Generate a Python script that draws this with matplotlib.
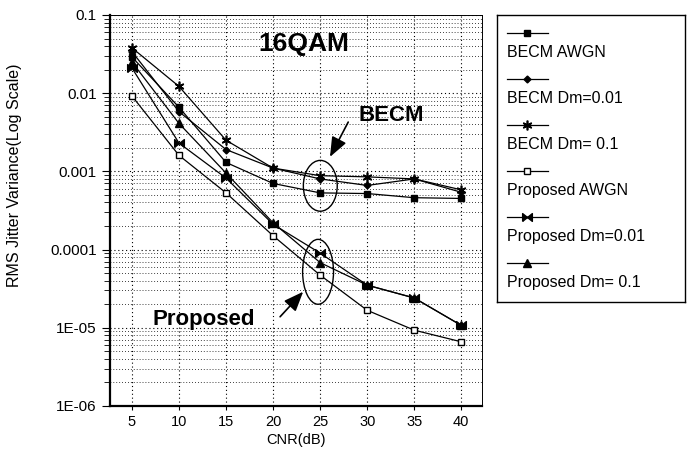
import numpy as np
import matplotlib
matplotlib.use("Agg")
import matplotlib.pyplot as plt
from matplotlib.patches import Ellipse

plt.rcParams['font.family'] = ['Liberation Sans', 'DejaVu Sans']

# ===== data =====
cnr = [5, 10, 15, 20, 25, 30, 35, 40]

becm_awgn = [0.029, 0.0066, 0.0013, 0.0007, 0.00053, 0.00052, 0.00046, 0.00045]
becm_dm001 = [0.034, 0.0058, 0.0019, 0.0011, 0.0008, 0.00066, 0.0008, 0.00054]
becm_dm01 = [0.038, 0.0122, 0.0025, 0.0011, 0.00088, 0.00085, 0.0008, 0.00058]
prop_awgn = [0.0092, 0.0016, 0.00053, 0.00015, 0.000047, 0.0000167, 0.0000093, 0.0000066]
prop_dm001 = [0.021, 0.0023, 0.00082, 0.00021, 0.00009, 0.000035, 0.000024, 0.0000107]
prop_dm01 = [0.025, 0.0041, 0.00095, 0.00022, 0.000068, 0.000035, 0.000024, 0.0000107]

labels = ['BECM AWGN', 'BECM Dm=0.01', 'BECM Dm= 0.1',
          'Proposed AWGN', 'Proposed Dm=0.01', 'Proposed Dm= 0.1']
ytick_vals = [1e-6, 1e-5, 1e-4, 1e-3, 1e-2, 1e-1]
ytick_labels = ['1E-06', '1E-05', '0.0001', '0.001', '0.01', '0.1']

# bowtie marker (two triangles tip to tip)
bowtie = [(-1, -0.8), (1, 0.8), (1, -0.8), (-1, 0.8), (-1, -0.8)]

styles = [
    dict(marker='s', ms=5, mfc='black'),
    dict(marker='D', ms=3.5, mfc='black'),
    dict(marker=(6, 2, 0), ms=7, mew=1.2),
    dict(marker='s', ms=5, mfc='white'),
    dict(marker=bowtie, ms=7, mfc='black'),
    dict(marker='^', ms=6, mfc='black'),
]
series = [becm_awgn, becm_dm001, becm_dm01, prop_awgn, prop_dm001, prop_dm01]

fig = plt.figure(figsize=(6.87, 4.54), dpi=100)
ax = fig.add_axes([0.160, 0.106, 0.542, 0.861])

for vals, st in zip(series, styles):
    ax.plot(cnr, vals, color='black', lw=0.9, mec='black', **st)

ax.set_yscale('log')
ax.set_ylim(1e-6, 0.1)
ax.set_xlim(2.66, 42.23)
ax.set_xticks(cnr)
ax.set_yticks(ytick_vals)
ax.set_yticklabels(ytick_labels)
ax.tick_params(axis='x', labelsize=10.5, length=3, direction='out')
ax.tick_params(axis='y', which='major', labelsize=11, length=6, direction='out')
ax.tick_params(axis='y', which='minor', length=4, direction='out')

# dotted grid
ax.grid(True, which='major', axis='both', color='black', linestyle=(0, (1, 2.5)), lw=0.8)
ax.grid(True, which='minor', axis='y', color='black', linestyle=(0, (1, 2.5)), lw=0.6)

for s in ['left', 'bottom']:
    ax.spines[s].set_linewidth(1.6)
for s in ['top', 'right']:
    ax.spines[s].set_linewidth(0.7)

ax.set_xlabel('CNR(dB)', fontsize=10.5, labelpad=3)
ax.set_ylabel('RMS Jitter Variance(Log Scale)', fontsize=11.5)
ax.yaxis.set_label_coords(-0.235, 0.59)

# annotations
ax.text(0.522, 0.926, '16QAM', transform=ax.transAxes, fontsize=19,
        fontweight='bold', ha='center', va='center')
ax.text(0.755, 0.742, 'BECM', transform=ax.transAxes, fontsize=16,
        fontweight='bold', ha='center', va='center')
ax.text(0.253, 0.220, 'Proposed', transform=ax.transAxes, fontsize=16,
        fontweight='bold', ha='center', va='center')

ax.add_patch(Ellipse((0.565, 0.563), 0.091, 0.130, transform=ax.transAxes,
                     fill=False, edgecolor='black', lw=1))
ax.add_patch(Ellipse((0.559, 0.343), 0.083, 0.166, transform=ax.transAxes,
                     fill=False, edgecolor='black', lw=1))

arr = dict(arrowstyle='-|>,head_length=1.0,head_width=0.4', color='black',
           lw=1.2, mutation_scale=12, shrinkA=0, shrinkB=0)
ax.annotate('', xy=(0.591, 0.637), xytext=(0.640, 0.726),
            xycoords='axes fraction', arrowprops=arr)
ax.annotate('', xy=(0.519, 0.292), xytext=(0.457, 0.228),
            xycoords='axes fraction', arrowprops=arr)

# legend box: sample line above each label
lax = fig.add_axes([0.7234, 0.3348, 0.2737, 0.6322])
lax.set_xlim(0, 188)
lax.set_ylim(287, 0)
lax.set_xticks([])
lax.set_yticks([])
for s in lax.spines.values():
    s.set_linewidth(1.0)

for i, (lab, st) in enumerate(zip(labels, styles)):
    y0 = 18 + 46 * i
    lax.plot([10, 51], [y0, y0], color='black', lw=0.9)
    lax.plot([30.5], [y0], color='black', mec='black', **st)
    lax.text(10, y0 + 20, lab, fontsize=11.5, ha='left', va='center')

fig.savefig('out.png', dpi=100, facecolor='white')
